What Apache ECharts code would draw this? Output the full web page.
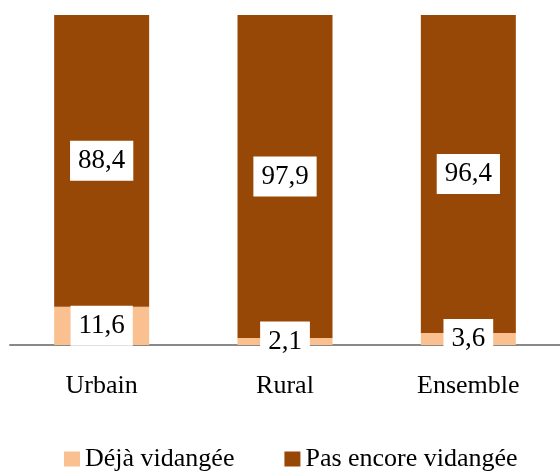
<!DOCTYPE html>
<html>
<head>
<meta charset="utf-8">
<script src="https://cdn.jsdelivr.net/npm/echarts@6/dist/echarts.min.js"></script>
<style>
  html, body { margin: 0; padding: 0; background: #fff; }
  #chart { width: 560px; height: 472px; }
</style>
</head>
<body>
<div id="chart"></div>
<script>
var categories = ['Urbain', 'Rural', 'Ensemble'];
var dejaVidangee = [11.6, 2.1, 3.6];
var pasEncoreVidangee = [88.4, 97.9, 96.4];

var serif = "'Liberation Serif', 'Times New Roman', serif";

function frLabel(p) {
    return String(p.value).replace('.', ',');
}

var labelStyle = {
    show: true,
    position: 'inside',
    formatter: frLabel,
    color: '#000',
    fontFamily: serif,
    fontSize: 27,
    lineHeight: 28,
    backgroundColor: '#fff',
    padding: [6, 8]
};

var chart = echarts.init(document.getElementById('chart'));
chart.setOption({
    animation: false,
    grid: { left: 10, right: 0, top: 15, bottom: 127 },
    legend: {
        left: 64,
        top: 446,
        padding: 0,
        itemWidth: 16,
        itemHeight: 15,
        itemGap: 50,
        icon: 'rect',
        textStyle: { fontFamily: serif, fontSize: 26, color: '#000' },
        data: ['Déjà vidangée', 'Pas encore vidangée']
    },
    xAxis: {
        type: 'category',
        data: categories,
        axisLine: { lineStyle: { color: '#898989', width: 2 } },
        axisTick: { show: false },
        axisLabel: { fontFamily: serif, fontSize: 26, color: '#000', margin: 28 }
    },
    yAxis: {
        type: 'value',
        min: 0,
        max: 100,
        show: false,
        splitLine: { show: false }
    },
    series: [
        {
            name: 'Déjà vidangée',
            type: 'bar',
            stack: 'total',
            barWidth: 95,
            itemStyle: { color: '#FAC090' },
            label: labelStyle,
            data: dejaVidangee
        },
        {
            name: 'Pas encore vidangée',
            type: 'bar',
            stack: 'total',
            barWidth: 95,
            itemStyle: { color: '#974706' },
            label: labelStyle,
            data: pasEncoreVidangee
        }
    ]
});
</script>
</body>
</html>
